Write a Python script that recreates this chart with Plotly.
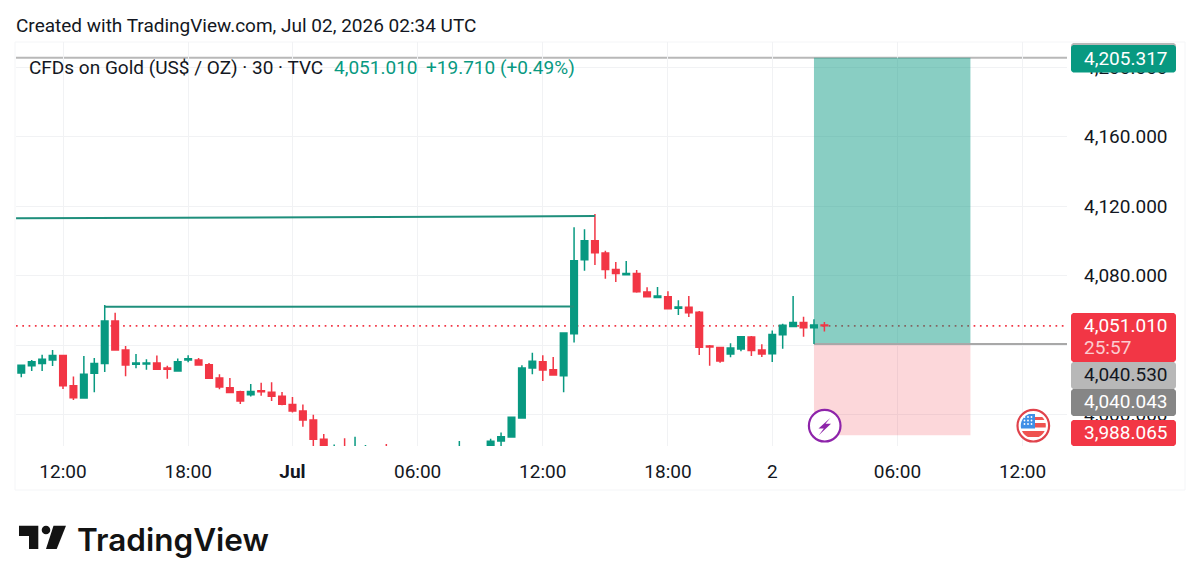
import math
import plotly.graph_objects as go

# 30-minute CFD candles; bar 0 is the 12:00 candle, ticks count bars because closed hours are skipped
bar_index = list(range(-4, 74))
opens = [4023.9, 4028.1, 4029.4, 4031.4, 4033.9, 4016.6, 4009.5, 4023.7, 4029.4, 4053.8,
         4037.1, 4028.9, 4029.1, 4029.6, 4026.8, 4025.0, 4031.4, 4031.4, 4028.7, 4021.0,
         4015.4, 4013.1, 4011.4, 4013.7, 4012.8, 4010.5, 4005.7, 4002.0, 3996.8, 3985.7,
         3977.5, 3981.0, 3977.0, 3978.0, 3979.0, 3979.0, 3977.0, 3976.0, 3975.5, 3976.5,
         3977.0, 3976.0, 3977.0, 3979.0, 3978.0, 3981.5, 3984.7, 3987.0, 3998.0, 4026.8,
         4030.4, 4025.8, 4022.3, 4046.5, 4089.1, 4100.0, 4093.0, 4083.5, 4080.5, 4081.2,
         4070.5, 4067.4, 4067.8, 4061.1, 4061.7, 4058.8, 4039.4, 4038.5, 4034.8, 4037.7,
         4044.6, 4037.1, 4035.0, 4045.9, 4050.6, 4052.9, 4050.0, 4051.5]
highs = [4028.3, 4031.4, 4034.4, 4037.1, 4034.2, 4021.8, 4033.7, 4032.5, 4063.0, 4058.6,
         4039.4, 4034.8, 4031.8, 4033.9, 4028.1, 4032.3, 4034.1, 4032.5, 4029.6, 4023.1,
         4021.0, 4013.7, 4017.6, 4018.3, 4018.5, 4012.9, 4010.1, 4005.7, 3999.9, 3988.8,
         3982.8, 3986.3, 3987.2, 3982.4, 3981.0, 3983.0, 3980.0, 3978.5, 3978.0, 3979.0,
         3979.5, 3979.0, 3984.7, 3981.0, 3981.0, 3986.1, 3989.7, 3998.9, 4028.3, 4035.6,
         4034.1, 4033.1, 4047.3, 4107.7, 4106.6, 4115.4, 4094.3, 4087.8, 4088.3, 4083.2,
         4073.2, 4073.4, 4070.9, 4065.7, 4068.2, 4059.6, 4040.0, 4039.0, 4041.0, 4045.2,
         4045.2, 4040.4, 4048.4, 4052.3, 4068.2, 4056.3, 4054.8, 4053.2]
lows = [4021.4, 4025.0, 4025.0, 4027.9, 4014.7, 4008.3, 4009.3, 4012.8, 4024.5, 4037.1,
        4022.0, 4026.6, 4025.8, 4026.0, 4020.6, 4025.0, 4030.0, 4028.1, 4020.6, 4014.5,
        4012.4, 4006.0, 4010.3, 4010.8, 4007.8, 4005.3, 4001.2, 3993.0, 3980.5, 3977.6,
        3975.0, 3974.0, 3974.0, 3975.0, 3976.0, 3975.0, 3973.0, 3972.5, 3973.0, 3974.0,
        3974.5, 3974.0, 3975.0, 3977.0, 3976.0, 3979.0, 3981.9, 3986.9, 3998.0, 4023.1,
        4019.3, 4022.3, 4012.8, 4041.5, 4082.8, 4086.0, 4078.2, 4076.3, 4080.5, 4070.1,
        4067.6, 4066.9, 4060.7, 4057.3, 4056.1, 4034.2, 4028.1, 4029.8, 4032.9, 4036.4,
        4033.7, 4033.1, 4030.2, 4037.9, 4050.2, 4044.8, 4040.6, 4047.7]
closes = [4028.3, 4030.4, 4031.8, 4033.9, 4016.6, 4009.7, 4023.1, 4029.4, 4053.8, 4037.1,
          4028.5, 4029.6, 4029.6, 4026.0, 4026.0, 4030.4, 4032.1, 4028.5, 4020.8, 4015.8,
          4012.6, 4007.8, 4013.3, 4013.1, 4010.5, 4005.9, 4002.0, 3996.8, 3985.7, 3980.5,
          3980.0, 3977.0, 3980.5, 3980.0, 3978.0, 3977.0, 3976.0, 3975.5, 3976.5, 3977.0,
          3976.0, 3977.0, 3980.0, 3978.5, 3980.0, 3984.6, 3987.2, 3998.4, 4026.8, 4030.6,
          4025.6, 4022.7, 4046.9, 4088.5, 4100.0, 4093.1, 4083.4, 4081.1, 4081.2, 4070.7,
          4067.8, 4068.2, 4060.9, 4061.9, 4058.6, 4038.7, 4038.8, 4030.8, 4038.3, 4044.8,
          4036.9, 4034.8, 4046.1, 4051.3, 4052.9, 4050.0, 4051.5, 4051.01]

time_tick_bars = [0, 12, 22, 34, 46, 58, 68, 80, 92]
time_tick_labels = ["12:00", "18:00", "<b>Jul</b>", "06:00", "12:00", "18:00", "2", "06:00", "12:00"]
price_ticks = [4000, 4040, 4080, 4120, 4160, 4200]
# The 4,040 label sits wholly behind the countdown tag
price_tick_labels = ["4,000.000", "", "4,080.000", "4,120.000", "4,160.000", "4,200.000"]

# Long-position drawing
position_start_bar, position_end_bar = 72, 87
target_price = 4205.317
entry_price = 4040.530
stop_price = 3988.065
last_price = 4051.010

# Two hand-drawn trend lines
upper_line_bars = [-4.5, 51]
upper_line_prices = [4112.9, 4114.2]
lower_line_bars = [4, 49]
lower_line_prices = [4062.0, 4062.2]

GREEN = "#089981"
RED = "#f23645"
GRID = "#f1f2f4"
INK = "#131722"
FONT = "Roboto"
TEXT_SIZE = 19

# Plot rectangle in page pixels
LEFT, RIGHT, TOP, BOTTOM = 16, 1067, 42, 446
WIDTH, HEIGHT = 1200, 586


def px(x):
    return (x - LEFT) / (RIGHT - LEFT)


def py(y):
    return (BOTTOM - y) / (BOTTOM - TOP)


def poly(points, fill, line_color=None, line_width=0, layer="above"):
    path = "M " + " L ".join(f"{px(x):.5f},{py(y):.5f}" for x, y in points) + " Z"
    return dict(type="path", path=path, xref="paper", yref="paper", fillcolor=fill, layer=layer,
                line=dict(color=line_color or fill, width=line_width))


def rounded(x0, y0, x1, y1, r, fill):
    pts = []
    centres = [(x0 + r, y0 + r, 180), (x1 - r, y0 + r, 270), (x1 - r, y1 - r, 0), (x0 + r, y1 - r, 90)]
    for cx, cy, start in centres:
        for k in range(7):
            a = math.radians(start + k * 15)
            pts.append((cx + r * math.cos(a), cy + r * math.sin(a)))
    return poly(pts, fill)


def disc(cx, cy, r, fill, line_color=None, line_width=0):
    return dict(type="circle", xref="paper", yref="paper", x0=px(cx - r), x1=px(cx + r),
                y0=py(cy + r), y1=py(cy - r), fillcolor=fill, layer="above",
                line=dict(color=line_color or fill, width=line_width))


def disc_band(cx, cy, r, y0, y1, x_min=None, x_max=None, fill="#000"):
    # Slice of a disc between two horizontal lines, optionally limited in x
    left, right = [], []
    for k in range(9):
        y = y0 + (y1 - y0) * k / 8
        half = math.sqrt(max(r * r - (y - cy) ** 2, 0))
        a, b = cx - half, cx + half
        left.append((a if x_min is None else max(a, x_min), y))
        right.append((b if x_max is None else min(b, x_max), y))
    return poly(left + right[::-1], fill)


def label(x, y, text, color=INK, size=TEXT_SIZE, anchor="left"):
    return dict(xref="paper", yref="paper", x=px(x), y=py(y), text=text, showarrow=False,
                xanchor=anchor, yanchor="middle", font=dict(family=FONT, size=size, color=color),
                align=anchor, borderpad=0, borderwidth=0)


fig = go.Figure()

fig.add_trace(go.Candlestick(
    x=bar_index, open=opens, high=highs, low=lows, close=closes,
    increasing=dict(line=dict(color=GREEN, width=1.5), fillcolor=GREEN),
    decreasing=dict(line=dict(color=RED, width=1.5), fillcolor=RED),
    whiskerwidth=0, hoverinfo="skip", showlegend=False,
))
fig.add_trace(go.Scatter(x=upper_line_bars, y=upper_line_prices, mode="lines",
                         line=dict(color="#1f8f7c", width=2), hoverinfo="skip", showlegend=False))
fig.add_trace(go.Scatter(x=lower_line_bars, y=lower_line_prices, mode="lines",
                         line=dict(color="#1f8f7c", width=2), hoverinfo="skip", showlegend=False))

shapes = [
    # Chart frame
    dict(type="rect", xref="paper", yref="paper", x0=px(15), x1=px(1185), y0=py(490), y1=py(42),
         line=dict(color="#f4f5f7", width=1), fillcolor="rgba(0,0,0,0)", layer="below"),
    # Long position zones
    dict(type="rect", xref="x", yref="y", x0=position_start_bar, x1=position_end_bar,
         y0=entry_price, y1=target_price, fillcolor="rgba(8,153,129,0.48)", line_width=0, layer="between"),
    dict(type="rect", xref="x", yref="y", x0=position_start_bar, x1=position_end_bar,
         y0=stop_price, y1=entry_price, fillcolor="rgba(242,54,69,0.2)", line_width=0, layer="between"),
    # Last-price dots, target and entry rays
    dict(type="line", xref="paper", yref="y", x0=0, x1=1, y0=last_price, y1=last_price,
         line=dict(color=RED, width=1.7, dash="1.7px,4.6px"), layer="between"),
    dict(type="line", xref="paper", yref="y", x0=0, x1=1, y0=target_price, y1=target_price,
         line=dict(color="#b8b8b8", width=2), layer="between"),
    dict(type="line", xref="x", yref="y", x0=position_start_bar, x1=96.26, y0=entry_price, y1=entry_price,
         line=dict(color="#a8a8a8", width=2), layer="between"),
    # Price-scale tags
    rounded(1071, 43, 1176, 68, 3, "#b8b8b8"),
    rounded(1071, 45, 1176, 72.5, 3, GREEN),
    rounded(1071, 313, 1176, 362, 3, RED),
    rounded(1071, 362, 1176, 389, 3, "#b8b8b8"),
    rounded(1071, 389, 1176, 416, 3, "#868686"),
    rounded(1071, 420, 1176, 446, 3, RED),
    # Logo mark
    poly([(19, 525.7), (38.3, 525.7), (38.3, 549), (29, 549), (29, 536), (19, 536)], "#131313"),
    disc(46, 530, 4.3, "#131313"),
    poly([(53.5, 525.7), (66, 525.7), (56.7, 549), (46, 549)], "#131313"),
    # Event markers on the time axis: lightning
    disc(824.7, 425.7, 15.8, "#ffffff", "#8e24aa", 2.2),
    poly([(830.5, 417.8), (818.5, 428.6), (823.8, 428.6), (818.8, 435.2), (831, 423.8), (825.5, 423.8)], "#8e24aa"),
    # Event markers: US flag
    disc(1033.3, 425.7, 15.8, "#ffffff", "#e0434c", 2.2),
    disc_band(1033.3, 425.7, 12.5, 417, 420, 1035, None, "#ef5350"),
    disc_band(1033.3, 425.7, 12.5, 423, 427.5, 1035, None, "#ef5350"),
    disc_band(1033.3, 425.7, 12.5, 431, 437, None, None, "#ef5350"),
    disc_band(1033.3, 425.7, 12.5, 414, 428.5, None, 1035, "#3f8fe6"),
]
for row_y in (417, 420.5, 424):
    for col_x in (1024.5, 1028, 1031.5):
        shapes.append(disc(col_x, row_y, 0.9, "#ffffff"))

annotations = [
    label(16, 26, "Created with TradingView.com, Jul 02, 2026 02:34 UTC"),
    label(29, 67, "CFDs on Gold (US$ / OZ) · 30 · TVC"),
    label(333.5, 67, "4,051.010", GREEN),
    label(426, 67, "+19.710 (+0.49%)", GREEN),
    label(1167.5, 58, "4,205.317", "#ffffff", anchor="right"),
    label(1167.5, 325, "4,051.010", "#ffffff", anchor="right"),
    label(1084, 347, "25:57", "rgba(255,255,255,0.75)"),
    label(1167.5, 374, "4,040.530", INK, anchor="right"),
    label(1167.5, 401.5, "4,040.043", "#ffffff", anchor="right"),
    label(1167.5, 432.5, "3,988.065", "#ffffff", anchor="right"),
    dict(xref="paper", yref="paper", x=px(75), y=py(539), text="TradingView", showarrow=False,
         xanchor="left", yanchor="middle", font=dict(family="Inter", size=31.5, color="#131313", weight=600)),
]

fig.update_layout(
    width=WIDTH, height=HEIGHT,
    margin=dict(l=LEFT, r=WIDTH - RIGHT, t=TOP, b=HEIGHT - BOTTOM, pad=0),
    paper_bgcolor="#ffffff", plot_bgcolor="#ffffff",
    boxgap=0.1,
    showlegend=False,
    font=dict(family=FONT, size=TEXT_SIZE, color=INK),
    shapes=shapes, annotations=annotations,
    xaxis=dict(
        range=[-4.506, 96.26], rangeslider=dict(visible=False), tickmode="array",
        tickvals=time_tick_bars, ticktext=time_tick_labels, showgrid=True, gridcolor=GRID, gridwidth=1,
        zeroline=False, showline=False, ticks="", ticklabelstandoff=12,
        tickfont=dict(family=FONT, size=TEXT_SIZE, color=INK), fixedrange=True,
    ),
    yaxis=dict(
        range=[3981.87, 4214.39], side="right", tickmode="array", tickvals=price_ticks,
        ticktext=price_tick_labels, showgrid=True, gridcolor=GRID, gridwidth=1, zeroline=False,
        showline=False, ticks="", ticklabelstandoff=16,
        tickfont=dict(family=FONT, size=TEXT_SIZE, color=INK), fixedrange=True,
    ),
)

fig.write_html("out.html")
